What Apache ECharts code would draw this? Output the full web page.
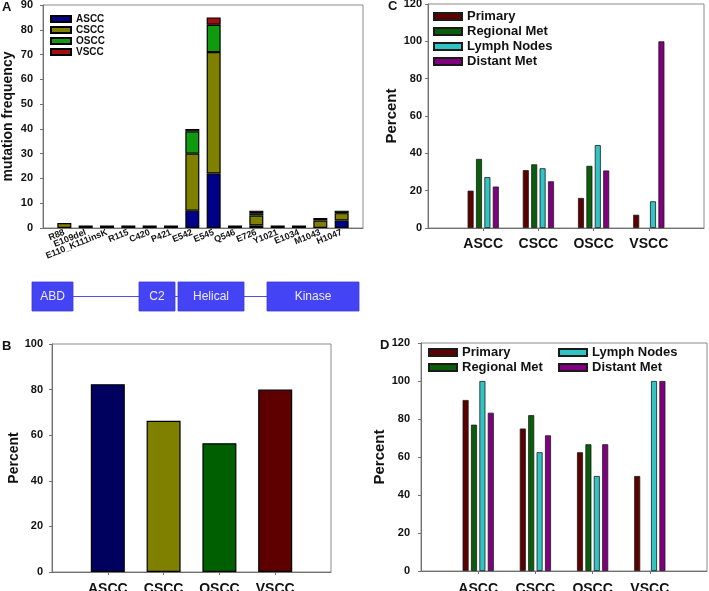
<!DOCTYPE html>
<html><head><meta charset="utf-8">
<script src="https://cdn.jsdelivr.net/npm/echarts@6/dist/echarts.min.js"></script>
<style>html,body{margin:0;padding:0;background:#fff}#c{width:709px;height:591px}</style>
</head><body><div id="c"></div>
<script>
// Panel A: PIK3CA mutation frequency by site
const mutations = ['R88','E109del','E110_K111insK','R115','C420','P421','E542','E545','Q546','E726','Y1021','E1034','M1043','H1047'];
const asccFreq = [0,0,0,0,0,0,7,22,0,1,0,1,0,3];
const csccFreq = [2,1,1,1,1,1,23,49,1,4,0,0,3,3];
const osccFreq = [0,0,0,0,0,0,9,11,0,1,1,0,1,1];
const vsccFreq = [0,0,0,0,0,0,1,3,0,1,0,0,0,0];
const freqTicks = [0,10,20,30,40,50,60,70,80,90];

// Protein domains (diagram units)
const domainNames = ['ABD','C2','Helical','Kinase'];
const domainStart = [0,107,146,235];
const domainEnd = [41,143,212,327];
const backbone = [0,327];

// Panel B
const groups = ['ASCC','CSCC','OSCC','VSCC'];
const pikPercent = [82.4,66.3,56.5,80.0];

// Panel C
const siteNames = ['Primary','Regional Met','Lymph Nodes','Distant Met'];
const cPrimary = [20,31,16.1,7.1];
const cRegional = [37,34.1,33.3,0];
const cLymph = [27.3,32,44.4,14.3];
const cDistant = [22.2,25,30.8,100];

// Panel D
const dPrimary = [90,75,62.5,50];
const dRegional = [77,82,66.7,0];
const dLymph = [100,62.5,50,100];
const dDistant = [83.3,71.4,66.7,100];

const FF = '"Liberation Sans", Arial, sans-serif';
const pad = a => [null].concat(a.map(v => v === 0 ? '-' : v)).concat([null]);
const padCat = a => [''].concat(a).concat(['']);

const groupColors = ['#00005e','#808000','#005f00','#5e0000'];
const aColors = ['#000088','#808000','#109a10','#a01010'];
const siteColors = ['#5c0000','#0a5e0a','#30c4c4','#800080'];

const axisLineStyle = {lineStyle:{color:'#707070', width:1}};
function catAxis(gi, data, fs, margin, ticks) {
  return {type:'category', gridIndex:gi, data:data, boundaryGap:false,
    axisLine:axisLineStyle,
    axisTick: ticks ? {show:true, length:3, lineStyle:{color:'#707070'}, interval:(i)=> i>0 && i<data.length-1} : {show:false},
    axisLabel:{interval:0, fontSize:fs, fontWeight:'bold', fontFamily:FF, color:'#111', margin:margin},
    splitLine:{show:false}};
}
function valAxis(gi, max, interval, name, gap, margin, nfs) {
  return {type:'value', gridIndex:gi, min:0, max:max, interval:interval,
    name:name, nameLocation:'middle', nameRotate:90, nameGap:gap,
    nameTextStyle:{fontSize:nfs, fontWeight:'bold', fontFamily:FF, color:'#111'},
    axisLine:{show:true, lineStyle:{color:'#707070'}},
    axisTick:{show:true, length:3, lineStyle:{color:'#707070'}},
    axisLabel:{fontSize:11, fontWeight:'bold', fontFamily:FF, color:'#111', margin:margin},
    splitLine:{show:false}};
}

const chart = echarts.init(document.getElementById('c'), null, {renderer:'canvas'});

const xA = catAxis(0, padCat(mutations), 9, 4, false);
xA.axisLabel.rotate = 22;

const series = [];
[['ASCC',asccFreq],['CSCC',csccFreq],['OSCC',osccFreq],['VSCC',vsccFreq]].forEach((s,i)=>{
  series.push({name:s[0], type:'bar', stack:'A', xAxisIndex:0, yAxisIndex:0, barWidth:14,
    data:pad(s[1]), itemStyle:{color:aColors[i], borderColor:'#000', borderWidth:1.2}});
});

// domain diagram
series.push({type:'line', xAxisIndex:1, yAxisIndex:1, data:[[backbone[0],0.5],[backbone[1],0.5]],
  symbol:'none', lineStyle:{color:'#5050e8', width:1}, z:1, silent:true});
series.push({type:'custom', xAxisIndex:1, yAxisIndex:1, z:2,
  data: domainNames.map((n,i)=>[domainStart[i], domainEnd[i], n]),
  renderItem:(params, api)=>{
    const p0 = api.coord([api.value(0), 1]);
    const p1 = api.coord([api.value(1), 0]);
    return {type:'group', children:[
      {type:'rect', shape:{x:p0[0], y:p0[1], width:p1[0]-p0[0], height:p1[1]-p0[1]},
        style:{fill:'#4444f4', stroke:'#3a3ad8', lineWidth:0.8}},
      {type:'text', style:{text:api.value(2), x:(p0[0]+p1[0])/2, y:(p0[1]+p1[1])/2,
        align:'center', verticalAlign:'middle', fill:'#ececff', fontSize:12, fontFamily:FF}}
    ]};
  }});

// Panel B
series.push({name:'B', type:'bar', xAxisIndex:2, yAxisIndex:2, barWidth:34,
  data: pad(pikPercent).map((v,i)=> v==null? null : {value:v, itemStyle:{color:groupColors[i-1]}}),
  itemStyle:{borderColor:'#000', borderWidth:1.2}});

// Panel C & D
[[cPrimary,cRegional,cLymph,cDistant,3],[dPrimary,dRegional,dLymph,dDistant,4]].forEach(set=>{
  for (let k=0;k<4;k++) {
    series.push({name:siteNames[k], type:'bar', xAxisIndex:set[4], yAxisIndex:set[4],
      barWidth:6, barGap:'40%', data:pad(set[k]),
      itemStyle:{color:siteColors[k], borderColor:'#1a1a1a', borderWidth:0.8}});
  }
});

const legText = (fs)=>({fontSize:fs, fontWeight:'bold', fontFamily:FF, color:'#111', lineHeight:fs});
const gridBase = {show:true, borderColor:'#8a8a8a', borderWidth:1, containLabel:false, outerBoundsMode:'none'};

const option = {
  animation:false,
  backgroundColor:'#fff',
  grid:[
    Object.assign({left:43, top:5, width:320, height:223}, gridBase),
    {left:32, top:282, width:327, height:29, show:false, outerBoundsMode:'none'},
    Object.assign({left:52, top:344, width:279, height:228}, gridBase),
    Object.assign({left:428, top:4, width:276, height:224}, gridBase),
    Object.assign({left:421, top:343, width:286, height:228}, gridBase)
  ],
  xAxis:[
    xA,
    {type:'value', gridIndex:1, min:backbone[0], max:backbone[1], show:false},
    catAxis(2, padCat(groups), 14, 10, true),
    catAxis(3, padCat(groups), 14, 9, true),
    catAxis(4, padCat(groups), 14, 11, true)
  ],
  yAxis:[
    valAxis(0, 90, 10, 'mutation frequency', 28, 10, 14),
    {type:'value', gridIndex:1, min:0, max:1, show:false},
    valAxis(2, 100, 20, 'Percent', 30, 9, 14),
    valAxis(3, 120, 20, 'Percent', 25, 6, 15),
    valAxis(4, 120, 20, 'Percent', 28, 11, 15)
  ],
  legend:[
    {left:50, top:14, orient:'vertical', icon:'rect', padding:0, itemGap:1, itemWidth:20, itemHeight:6,
      data:['ASCC','CSCC','OSCC','VSCC'], textStyle:legText(10), selectedMode:false},
    {left:433, top:10, orient:'vertical', icon:'rect', padding:0, itemGap:2, itemWidth:28, itemHeight:7,
      data:siteNames, textStyle:legText(13), selectedMode:false},
    {left:428, top:346, orient:'vertical', icon:'rect', padding:0, itemGap:2, itemWidth:28, itemHeight:7,
      data:[siteNames[0], siteNames[1]], textStyle:legText(13), selectedMode:false},
    {left:558, top:346, orient:'vertical', icon:'rect', padding:0, itemGap:2, itemWidth:28, itemHeight:7,
      data:[siteNames[2], siteNames[3]], textStyle:legText(13), selectedMode:false}
  ],
  graphic:[
    {type:'text', left:2, top:1, style:{text:'A', fontSize:13, fontWeight:'bold', fontFamily:FF, fill:'#111'}},
    {type:'text', left:2, top:340, style:{text:'B', fontSize:13, fontWeight:'bold', fontFamily:FF, fill:'#111'}},
    {type:'text', left:388, top:0, style:{text:'C', fontSize:13, fontWeight:'bold', fontFamily:FF, fill:'#111'}},
    {type:'text', left:380, top:339, style:{text:'D', fontSize:13, fontWeight:'bold', fontFamily:FF, fill:'#111'}}
  ],
  series:series
};
chart.setOption(option);
</script>
</body></html>
